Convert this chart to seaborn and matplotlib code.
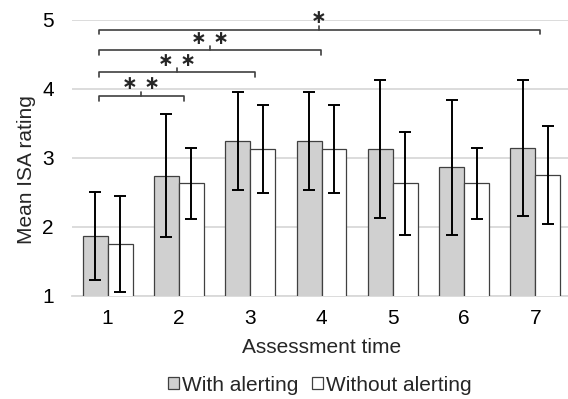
import matplotlib
matplotlib.use("Agg")
import matplotlib.pyplot as plt
import seaborn as sns
import pandas as pd
from matplotlib.patches import Patch

times = ["1", "2", "3", "4", "5", "6", "7"]
with_mean = [1.87, 2.74, 3.25, 3.25, 3.13, 2.86, 3.14]
with_sd = [0.64, 0.89, 0.71, 0.71, 1.00, 0.98, 0.99]
without_mean = [1.75, 2.63, 3.13, 3.13, 2.63, 2.63, 2.75]
without_sd = [0.70, 0.51, 0.635, 0.635, 0.745, 0.51, 0.705]
series = ["With alerting", "Without alerting"]
# significance brackets: (from group, to group, label)
sig_pairs = [(0, 1, "∗ ∗"), (0, 2, "∗ ∗"), (0, 3, "∗ ∗"), (0, 6, "∗")]

sns.set_style("white")
plt.rcParams["font.family"] = ["Liberation Sans", "DejaVu Sans"]

df = pd.DataFrame({
    "time": times * 2,
    "mean": with_mean + without_mean,
    "sd": with_sd + without_sd,
    "series": [series[0]] * 7 + [series[1]] * 7,
})

FS = 15
fig = plt.figure(figsize=(5.68, 3.99), dpi=100)
ax = fig.add_axes([0.1268, 0.2589, 0.8785, 0.691])
colors = {"With alerting": "#d0d0d0", "Without alerting": "#ffffff"}
sns.barplot(data=df, x="time", y="mean", hue="series", palette=colors,
            width=0.7, gap=0, errorbar=None, edgecolor="#404040",
            linewidth=0.9, ax=ax, legend=False, zorder=3)

# error bars at bar centres
patches = [p for p in ax.patches if p.get_height() > 0]
xw = sorted(p.get_x() + p.get_width() / 2 for p in patches)
xs_with = xw[0::2]
xs_without = xw[1::2]
ax.errorbar(xs_with, with_mean, yerr=with_sd, fmt="none", ecolor="black",
            elinewidth=1.4, capsize=4.5, capthick=1.4, zorder=4)
ax.errorbar(xs_without, without_mean, yerr=without_sd, fmt="none", ecolor="black",
            elinewidth=1.4, capsize=4.5, capthick=1.4, zorder=4)

ax.set_ylim(1, 5)
ax.set_xlim(-0.5, 6.5)
ax.set_yticks([1, 2, 3, 4, 5])
ax.yaxis.grid(True, color="#d9d9d9", linewidth=1.3, zorder=0)
ax.set_axisbelow(True)
for s in ["top", "right", "left"]:
    ax.spines[s].set_visible(False)
ax.spines["bottom"].set_color("#d9d9d9")
ax.spines["bottom"].set_linewidth(1.3)
ax.tick_params(axis="both", length=0, labelsize=FS, colors="black")
ax.tick_params(axis="x", pad=9.5)
ax.tick_params(axis="y", pad=13)
ax.set_xlabel("Assessment time", fontsize=FS, labelpad=7)
ax.set_ylabel("Mean ISA rating", fontsize=FS)
ax.yaxis.set_label_coords(-0.072, 0.456)

# brackets
line_y = [3.90, 4.24, 4.56, 4.86]
left_off = -0.126
right_off = [0.067, 0.06, -0.01, 0.06]
for (a, b, lab), yb, ro in zip(sig_pairs, line_y, right_off):
    x0 = a + left_off
    x1 = b + ro
    xm = (x0 + x1) / 2
    h = 0.07
    ax.plot([x0, x0, x1, x1], [yb - h, yb, yb, yb - h], color="#404040",
            lw=1.2, clip_on=False, zorder=5)
    ax.plot([xm, xm], [yb, yb + 0.06], color="#404040", lw=1.2,
            clip_on=False, zorder=5)
    ax.text(xm, yb + 0.175, lab, ha="center", va="center", fontsize=13.5,
            family="DejaVu Sans", fontweight="bold", clip_on=False, zorder=5)

handles = [Patch(facecolor=colors[s], edgecolor="#404040", linewidth=0.9) for s in series]
fig.legend(handles, series, loc="center", bbox_to_anchor=(0.5634, 0.035), ncol=2,
           frameon=False, fontsize=FS, handlelength=0.53, handleheight=0.53,
           handletextpad=0.16, columnspacing=0.64)

fig.savefig("out.png", dpi=100)
